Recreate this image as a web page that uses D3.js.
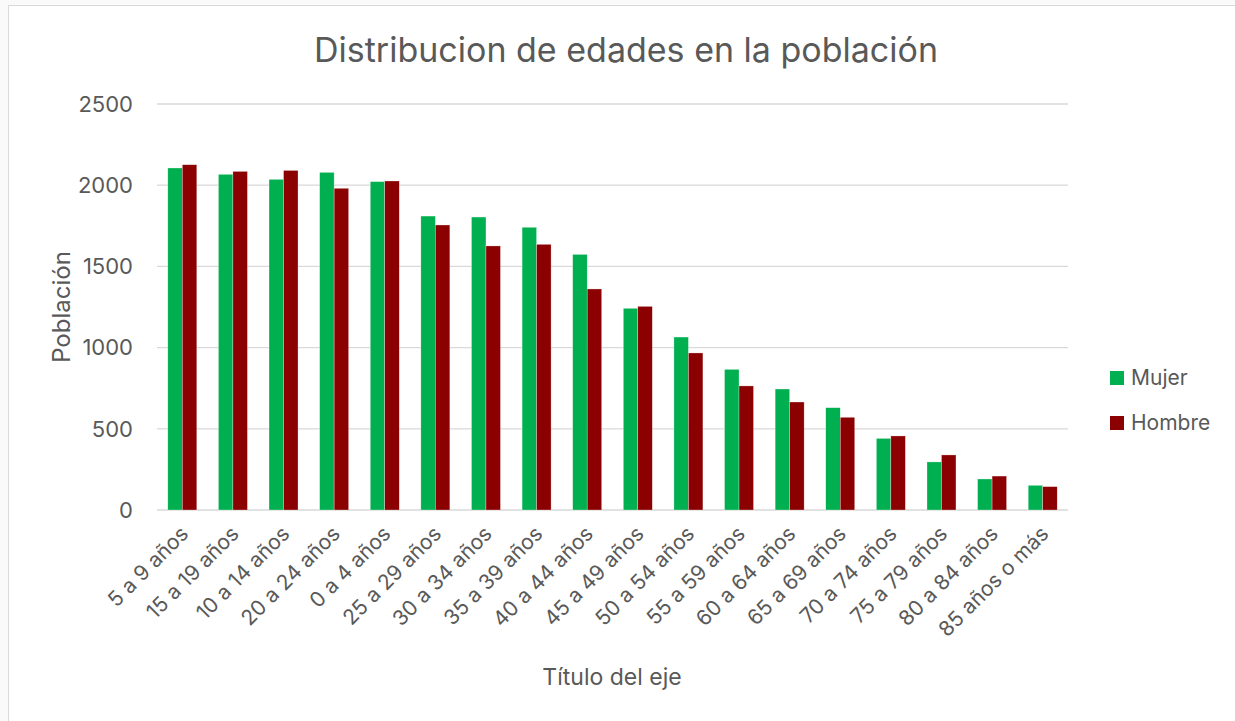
<!DOCTYPE html>
<html>
<head>
<meta charset="utf-8">
<script src="https://cdn.jsdelivr.net/npm/d3@7"></script>
<style>
  body { margin: 0; background: #fafafa; }
  text { font-family: Inter, "Noto Sans", sans-serif; fill: #595959; }
</style>
</head>
<body>
<div id="chart"></div>
<script>
var categories = ["5 a 9 años", "15 a 19 años", "10 a 14 años", "20 a 24 años", "0 a 4 años",
	"25 a 29 años", "30 a 34 años", "35 a 39 años", "40 a 44 años", "45 a 49 años",
	"50 a 54 años", "55 a 59 años", "60 a 64 años", "65 a 69 años", "70 a 74 años",
	"75 a 79 años", "80 a 84 años", "85 años o más"];
var mujer = [2106, 2067, 2036, 2079, 2022, 1810, 1804, 1741, 1574, 1242, 1065, 866, 745, 630, 441, 296, 191, 152];
var hombre = [2126, 2085, 2091, 1981, 2026, 1755, 1626, 1636, 1361, 1254, 967, 764, 665, 571, 456, 339, 209, 144];
var seriesNames = ["Mujer", "Hombre"];
var seriesColors = ["#00B050", "#8B0000"];
var yTicks = [0, 500, 1000, 1500, 2000, 2500];

var width = 1235, height = 721;
var margin = { top: 104, right: 167, bottom: 211, left: 157 };
var chartWidth = width - margin.left - margin.right;
var chartHeight = height - margin.top - margin.bottom;

var svg = d3.select("#chart").append("svg")
	.attr("width", width).attr("height", height);

// chart box
svg.append("rect")
	.attr("x", 8.5).attr("y", 5.5)
	.attr("width", width).attr("height", height)
	.attr("fill", "#ffffff").attr("stroke", "#d9d9d9");

var x = d3.scaleBand().domain(categories).range([0, chartWidth]).paddingInner(0.427).paddingOuter(0.2135);
var xInner = d3.scaleBand().domain(seriesNames).range([0, x.bandwidth()]);
var y = d3.scaleLinear().domain([0, 2500]).range([chartHeight, 0]);

var g = svg.append("g").attr("transform", "translate(" + margin.left + "," + margin.top + ")");

// gridlines
g.selectAll(".grid").data(yTicks).enter().append("line")
	.attr("x1", 0).attr("x2", chartWidth)
	.attr("y1", function(d) { return y(d); }).attr("y2", function(d) { return y(d); })
	.attr("stroke", "#d9d9d9").attr("stroke-width", 1.3);

// y axis labels
g.selectAll(".ylab").data(yTicks).enter().append("text")
	.attr("x", -24).attr("y", function(d) { return y(d); })
	.attr("dy", "0.35em").attr("text-anchor", "end")
	.style("font-size", "22px")
	.text(function(d) { return d; });

// bars
var data = categories.map(function(c, i) { return { cat: c, vals: [mujer[i], hombre[i]] }; });
var groups = g.selectAll(".grp").data(data).enter().append("g")
	.attr("transform", function(d) { return "translate(" + x(d.cat) + ",0)"; });
groups.selectAll("rect").data(function(d) { return d.vals; }).enter().append("rect")
	.attr("x", function(d, i) { return xInner(seriesNames[i]); })
	.attr("y", function(d) { return y(d); })
	.attr("width", xInner.bandwidth())
	.attr("height", function(d) { return chartHeight - y(d); })
	.attr("fill", function(d, i) { return seriesColors[i]; })
	.attr("stroke", "#ffffff").attr("stroke-width", 0.5).attr("stroke-opacity", 0.6);

// x labels, rotated
g.selectAll(".xlab").data(categories).enter().append("text")
	.attr("transform", function(d) {
		return "translate(" + (x(d) + x.bandwidth() / 2 + 2) + "," + (chartHeight + 20) + ") rotate(-45)";
	})
	.attr("text-anchor", "end")
	.attr("dy", "0.35em")
	.style("font-size", "21px")
	.text(function(d) { return d; });

// title
svg.append("text")
	.attr("x", 626).attr("y", 62)
	.attr("text-anchor", "middle")
	.style("font-size", "34px")
	.text("Distribucion de edades en la población");

// axis titles
svg.append("text")
	.attr("transform", "translate(70,307) rotate(-90)")
	.attr("text-anchor", "middle")
	.style("font-size", "24px")
	.text("Población");

svg.append("text")
	.attr("x", 612).attr("y", 685)
	.attr("text-anchor", "middle")
	.style("font-size", "23px")
	.text("Título del eje");

// legend
var legend = svg.selectAll(".leg").data(seriesNames).enter().append("g")
	.attr("transform", function(d, i) { return "translate(1110," + (371 + i * 45) + ")"; });
legend.append("rect").attr("width", 14).attr("height", 14)
	.attr("fill", function(d, i) { return seriesColors[i]; });
legend.append("text").attr("x", 21).attr("y", 7).attr("dy", "0.35em")
	.style("font-size", "21px")
	.text(function(d) { return d; });
</script>
</body>
</html>
